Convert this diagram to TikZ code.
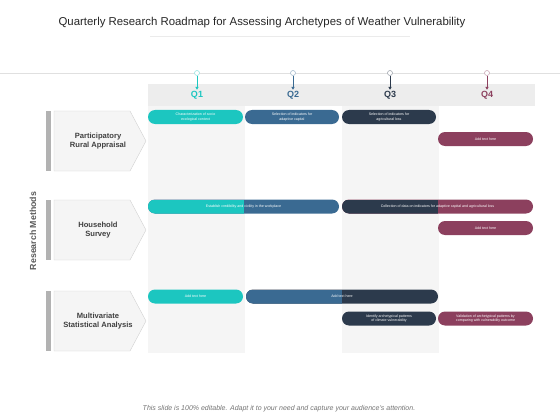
\documentclass[tikz,border=0pt]{standalone}
\usepackage{fontspec}
\setmainfont{Liberation Sans}
\usetikzlibrary{arrows.meta, positioning, calc}
\usepackage{xcolor}
\definecolor{mapteal}{HTML}{1CC6C0}
\definecolor{mapblue}{HTML}{3A6A92}
\definecolor{mapnavy}{HTML}{2C3A4C}
\definecolor{mapwine}{HTML}{8C405E}
\definecolor{mapgrey}{HTML}{F5F5F5}
\definecolor{maptext}{HTML}{404040}

\begin{document}
\begin{tikzpicture}[x=1pt, y=-1pt,
  bar/.style={rounded corners=7pt, minimum height=14pt, inner sep=0pt,
    text=white, align=center, font=\fontsize{3.6}{4.5}\selectfont},
  twotone/.style 2 args={fill=#2, path picture={
    \fill[#1, sharp corners] (path picture bounding box.south west)
      rectangle (path picture bounding box.north);}},
  qlabel/.style={font=\fontsize{9}{10}\selectfont\bfseries, inner sep=1pt},
  pinhead/.style={circle, draw, fill=white, inner sep=0pt, minimum size=5pt, line width=0.6pt},
  rowlabel/.style={font=\fontsize{7.6}{9}\selectfont\bfseries, text=maptext, align=center}
]
  \useasboundingbox (0,0) rectangle (560,420);

  % Title
  \node[font=\fontsize{11.4}{13}\selectfont, text=black!85] (title) at (262,23)
    {Quarterly Research Roadmap for Assessing Archetypes of Weather Vulnerability};
  \draw[black!8] (150,36) -- (410,36);
  \draw[black!12] (0,73) -- (560,73);

  % Quarter columns
  \fill[black!7] (148,84) rectangle (535,106);
  \foreach \x in {148, 342}
    \fill[mapgrey] (\x,106) rectangle +(97,247);

  % Quarter labels with pins
  \foreach \q/\x/\c in {1/197/mapteal, 2/293/mapblue, 3/390/mapnavy, 4/487/mapwine} {
    \node[qlabel, text=\c] (q\q) at (\x,95) {Q\q};
    \node[pinhead, draw=\c!45] (p\q) at (\x,73) {};
    \draw[\c, line width=0.7pt, -{Triangle[length=3pt,width=3.2pt]}] (p\q.south) -- (q\q.north);
  }

  % Research methods
  \foreach \n/\t/\txt in {ra/111/{Participatory\\Rural Appraisal},
                          hs/200/{Household\\Survey},
                          ms/291/{Multivariate\\Statistical Analysis}} {
    \fill[black!30] (46,\t) rectangle +(5,60);
    \draw[black!18, fill=mapgrey] (54,\t) -- ++(76,0) -- ++(16,30) -- ++(-16,30) -- ++(-76,0) -- cycle;
    \node[rowlabel] (\n) at (98,\t+30) {\txt};
  }
  \node[rotate=90, font=\fontsize{8.8}{10}\selectfont\bfseries, text=black!65] (methods) at (33,231) {Research Methods};

  % Participatory Rural Appraisal
  \node[bar, fill=mapteal, minimum width=95pt] (ra1) at (195.5,117) {Characterization of socio\\ecological context};
  \node[bar, fill=mapblue, minimum width=94pt] (ra2) at (292,117) {Selection of indicators for\\adaptive capital};
  \node[bar, fill=mapnavy, minimum width=94pt] (ra3) at (389,117) {Selection of indicators for\\agricultural loss};
  \node[bar, fill=mapwine, minimum width=95pt] (ra4) at (485.5,139) {Add text here};

  % Household Survey
  \node[bar, twotone={mapteal}{mapblue}, minimum width=191pt] (hs1) at (243.5,206.5)
    {Establish credibility and civility in the workplace};
  \node[bar, twotone={mapnavy}{mapwine}, minimum width=191pt] (hs2) at (437.5,206.5)
    {Collection of data on indicators for adaptive capital and agricultural loss};
  \node[bar, fill=mapwine, minimum width=95pt] (hs3) at (485.5,228) {Add text here};

  % Multivariate Statistical Analysis
  \node[bar, fill=mapteal, minimum width=95pt] (ms1) at (195.5,296.5) {Add text here};
  \node[bar, twotone={mapblue}{mapnavy}, minimum width=192pt] (ms2) at (342,296.5) {Add text here};
  \node[bar, fill=mapnavy, minimum width=94pt] (ms3) at (389,318.5) {Identify archetypical patterns\\of climate vulnerability};
  \node[bar, fill=mapwine, minimum width=95pt] (ms4) at (485.5,318.5) {Validation of archetypical patterns by\\comparing with vulnerability outcome};

  % Footer
  \node[font=\fontsize{7}{8}\selectfont\itshape, text=black!55] (note) at (279,409)
    {This slide is 100\% editable. Adapt it to your need and capture your audience's attention.};
\end{tikzpicture}
\end{document}
